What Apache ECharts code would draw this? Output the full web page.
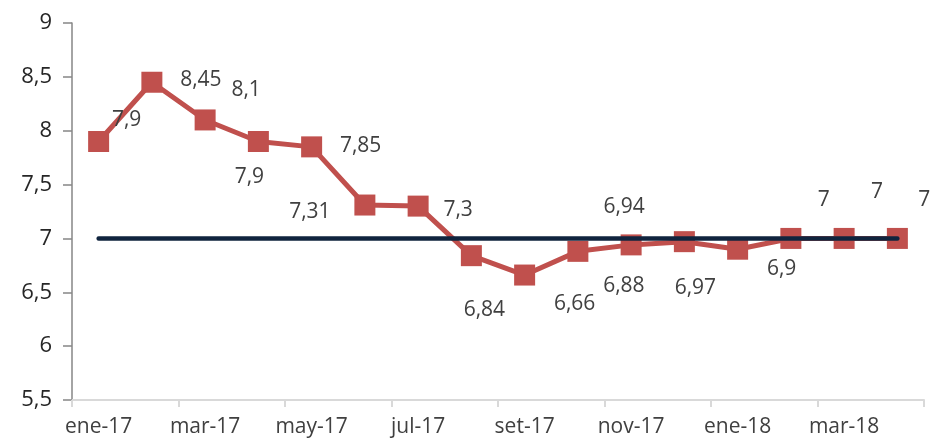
<!DOCTYPE html>
<html><head><meta charset="utf-8">
<script src="https://cdn.jsdelivr.net/npm/echarts@6/dist/echarts.min.js"></script>
<style>html,body{margin:0;padding:0;background:#fff}#c{width:930px;height:441px}</style>
</head><body><div id="c"></div>
<script>
const categories = ['ene-17','feb-17','mar-17','abr-17','may-17','jun-17','jul-17','ago-17','set-17','oct-17','nov-17','dic-17','ene-18','feb-18','mar-18','abr-18'];
const values = [7.9, 8.45, 8.1, 7.9, 7.85, 7.31, 7.3, 6.84, 6.66, 6.88, 6.94, 6.97, 6.9, 7, 7, 7];
const target = [7, 7, 7, 7, 7, 7, 7, 7, 7, 7, 7, 7, 7, 7, 7, 7];
const labelOffsets = [[28,-21],[49,-2],[41,-30],[-9,36],[49,-1],[-55,7],[40,4],[13,54],[50,29],[46,35],[-7,-38],[11,46],[44,20],[33,-38],[33,-46],[27,-38]];

const fmt = v => String(v).replace('.', ',');
const FONT = 'Open Sans';
const chart = echarts.init(document.getElementById('c'));
chart.setOption({
  animation: false,
  grid: {left: 72, right: 6, top: 23, bottom: 41},
  xAxis: {
    type: 'category', data: categories, boundaryGap: true,
    axisLine: {lineStyle: {color: '#d9d9d9', width: 2}},
    axisTick: {show: true, interval: 1, length: 7, lineStyle: {color: '#d9d9d9', width: 2}},
    axisLabel: {interval: 1, margin: 17, fontFamily: FONT, fontSize: 21, color: '#404040'}
  },
  yAxis: {
    type: 'value', min: 5.5, max: 9, interval: 0.5,
    splitLine: {show: false},
    axisLine: {show: true, lineStyle: {color: '#868686', width: 1.5}},
    axisTick: {show: true, length: 9, lineStyle: {color: '#868686', width: 1.5}},
    axisLabel: {margin: 20, fontFamily: FONT, fontSize: 22, color: '#262626', formatter: v => fmt(v)}
  },
  series: [
    {
      type: 'line', data: values.map((v, i) => ({value: v, label: {offset: labelOffsets[i]}})),
      symbol: 'rect', symbolSize: 21,
      lineStyle: {color: '#C0504D', width: 5},
      itemStyle: {color: '#C0504D'},
      label: {show: true, position: 'inside', fontFamily: FONT, fontSize: 21, color: '#404040', formatter: p => fmt(p.value)},
      z: 2
    },
    {
      type: 'line', data: target, symbol: 'none',
      lineStyle: {color: '#10243E', width: 4.5, cap: 'round'},
      z: 3, silent: true
    }
  ]
});
</script></body></html>
